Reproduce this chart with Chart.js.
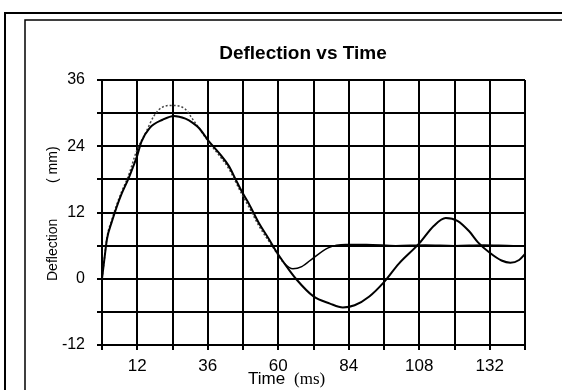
<!DOCTYPE html>
<html>
<head>
<meta charset="utf-8">
<script src="https://cdn.jsdelivr.net/npm/chart.js@4/dist/chart.umd.min.js"></script>
<style>
  body { margin: 0; background: #fff; }
  #wrap { width: 562px; height: 390px; }
</style>
</head>
<body>
<div id="wrap"><canvas id="deflChart" width="562" height="390"></canvas></div>
<script>
// readings taken off the plotted traces
const timeA = [0, 0.8, 1.7, 3.4, 5, 6.7, 8.9, 10.6, 12, 13.4, 16.2, 20.6, 24.5, 28.4, 31, 33, 36.4, 39.8, 43.2, 45.5, 47.7, 50, 53.4, 56.8, 59.6, 63, 66, 72, 77.6, 82, 86, 91, 96, 101, 108, 113, 117, 121, 125, 128, 132, 136, 139, 142, 144];
const deflA = [0, 3.5, 7.2, 10.4, 13, 15.4, 18, 20.3, 22.3, 24.8, 27.3, 28.8, 29.5, 29, 28.2, 27.3, 24.9, 22.8, 20.4, 18, 15.7, 13.6, 10.1, 7.2, 4.7, 2.1, 0, -3.2, -4.5, -5.2, -4.8, -3.2, -0.6, 2.7, 6.4, 9.6, 11, 10.5, 8.6, 6.6, 4.7, 3.3, 2.9, 3.4, 4.5];

const timeB = [0, 0.8, 1.7, 3.4, 5, 6.7, 8.9, 11.7, 15, 17.7, 20.6, 24, 28.4, 31, 33, 36.4, 39.8, 43.2, 47.7, 50, 53.4, 56.8, 59.6, 62, 65, 68, 72, 77, 83, 90, 100, 110, 120, 130, 140, 144];
const deflB = [0, 3.6, 7.5, 10.8, 13.4, 15.8, 18.5, 23, 26.6, 29.5, 31.1, 31.4, 30.7, 28.8, 27.3, 24.7, 22.4, 19.9, 15.2, 13, 9.6, 6.8, 4.6, 2.8, 1.8, 2.2, 3.8, 5.6, 6.2, 6.2, 6, 6.1, 6, 6.1, 6, 6];

const xTickLabels = [12, 36, 60, 84, 108, 132];
const yTickLabels = [-12, 0, 12, 24, 36];

const chartTitle = "Deflection vs Time";

function toPoints(xs, ys) {
  return xs.map((x, i) => ({ x: x, y: ys[i] }));
}

const decor = {
  id: "decor",
  beforeDraw(chart) {
    const ctx = chart.ctx;
    ctx.save();
    ctx.strokeStyle = "#000";
    // scanned page frame
    ctx.lineWidth = 2;
    ctx.beginPath();
    ctx.moveTo(5, 390); ctx.lineTo(5, 13); ctx.lineTo(562, 13);
    ctx.stroke();
    ctx.lineWidth = 1.5;
    ctx.beginPath();
    ctx.moveTo(25, 390); ctx.lineTo(25, 20); ctx.lineTo(562, 20);
    ctx.stroke();
    ctx.restore();
  },
  afterDraw(chart) {
    const ctx = chart.ctx;
    ctx.save();
    ctx.fillStyle = "#000";
    ctx.textBaseline = "alphabetic";

    ctx.font = "bold 19px 'Liberation Sans', Arial, sans-serif";
    ctx.textAlign = "center";
    ctx.fillText(chartTitle, 303, 59);

    // x title: sans word, serif unit
    ctx.textAlign = "left";
    ctx.font = "17px 'Liberation Sans', Arial, sans-serif";
    ctx.fillText("Time", 248, 384);
    ctx.font = "17px 'Liberation Serif', 'Times New Roman', serif";
    ctx.fillText("(ms)", 294, 384);

    // y title
    ctx.translate(57, 0);
    ctx.rotate(-Math.PI / 2);
    ctx.font = "14px 'Liberation Sans', Arial, sans-serif";
    ctx.fillText("Deflection", -281, 0);
    ctx.fillText("( mm)", -183, 0);
    ctx.restore();
  }
};

new Chart(document.getElementById("deflChart"), {
  type: "scatter",
  data: {
    datasets: [
      {
        label: "A",
        data: toPoints(timeA, deflA),
        showLine: true,
        borderColor: "#000",
        borderWidth: 2,
        pointRadius: 0,
        cubicInterpolationMode: "monotone"
      },
      {
        label: "B",
        data: toPoints(timeB, deflB),
        showLine: true,
        borderColor: "#000",
        borderWidth: 1.5,
        pointRadius: 0,
        cubicInterpolationMode: "monotone",
        segment: {
          borderDash: ctx => (ctx.p0.parsed.x < 60 ? [2, 2] : undefined),
          borderColor: ctx => (ctx.p0.parsed.x < 60 ? "#444" : "#000")
        }
      }
    ]
  },
  options: {
    responsive: false,
    animation: false,
    layout: { padding: { top: 80, right: 37, left: 0, bottom: 0 } },
    plugins: {
      legend: { display: false },
      tooltip: { enabled: false },
      title: { display: false }
    },
    scales: {
      x: {
        type: "linear",
        min: 0,
        max: 144,
        afterBuildTicks: scale => {
          const t = [];
          for (let v = 0; v <= 144; v += 12) t.push({ value: v });
          scale.ticks = t;
        },
        afterFit: scale => { scale.height = 45; },
        grid: { color: "#000", lineWidth: 2, tickLength: 5, drawTicks: true },
        border: { color: "#000", width: 2 },
        ticks: {
          color: "#000",
          padding: 6,
          maxRotation: 0,
          autoSkip: false,
          font: { family: "'Liberation Sans', Arial, sans-serif", size: 17 },
          callback: v => (xTickLabels.includes(v) ? String(v) : "")
        }
      },
      y: {
        min: -12,
        max: 36,
        afterBuildTicks: scale => {
          const t = [];
          for (let v = -12; v <= 36; v += 6) t.push({ value: v });
          scale.ticks = t;
        },
        afterFit: scale => { scale.width = 102; },
        grid: { color: "#000", lineWidth: 2, tickLength: 5, drawTicks: true },
        border: { color: "#000", width: 2 },
        ticks: {
          color: "#000",
          padding: 12,
          autoSkip: false,
          font: { family: "'Liberation Sans', Arial, sans-serif", size: 16 },
          callback: v => (yTickLabels.includes(v) ? String(v) : "")
        }
      }
    }
  },
  plugins: [decor]
});
</script>
</body>
</html>
